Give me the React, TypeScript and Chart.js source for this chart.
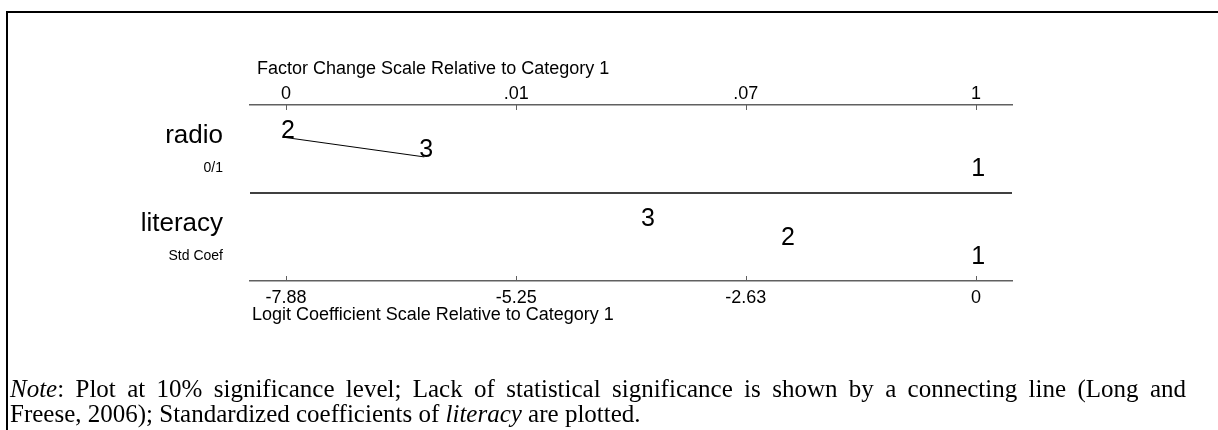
import React, { useEffect, useRef } from "react";
import { Chart, registerables } from "chart.js";

Chart.register(...registerables);

// ---------------- data ----------------
const variables = ["radio", "literacy"];
const variableSubLabels = ["0/1", "Std Coef"];
const categories = ["1", "2", "3"];
// logit coefficients relative to category 1 (categories 1, 2, 3)
const radioCoef = [0, -7.88, -6.3];
const literacyCoef = [0, -2.17, -3.77];
// pairs of categories (indexes) not significantly different -> connecting line
const radioInsignificantPairs: [number, number][] = [[1, 2]];
const literacyInsignificantPairs: [number, number][] = [];
const logitTicks = [-7.88, -5.25, -2.63, 0];
const logitTickLabels = ["-7.88", "-5.25", "-2.63", "0"];
const factorTickLabels = ["0", ".01", ".07", "1"];
const axisMin = -8.29;
const axisMax = 0.41;
const topTitle = "Factor Change Scale Relative to Category 1";
const bottomTitle = "Logit Coefficient Scale Relative to Category 1";

// ---------------- layout / style ----------------
const W = 1218;
const H = 430;
const SANS = "'Liberation Sans', Arial, Helvetica, sans-serif";
const SERIF = "'Liberation Serif', 'Times New Roman', Times, serif";
const LEVELS = [0.37, 0.59, 0.805];
const AXIS_COLOR = "#606060";

function rowPoints(coefs: number[], row: number) {
  const order = coefs.map((_, i) => i).sort((a, b) => coefs[a] - coefs[b]);
  return coefs.map((v, i) => ({ x: v, y: row + LEVELS[order.indexOf(i)], cat: categories[i] }));
}

export default function App() {
  const canvasRef = useRef<HTMLCanvasElement | null>(null);

  useEffect(() => {
    const canvas = canvasRef.current;
    if (!canvas) return;
    Chart.defaults.font.family = SANS;
    Chart.defaults.color = "#000";

    const rows = [radioCoef, literacyCoef];
    const pairs = [radioInsignificantPairs, literacyInsignificantPairs];
    const datasets: any[] = [];
    rows.forEach((coefs, r) => {
      const pts = rowPoints(coefs, r);
      pairs[r].forEach(([a, b]) =>
        datasets.push({
          type: "line",
          label: variables[r] + " link",
          data: [pts[a], pts[b]],
          borderColor: "#000",
          borderWidth: 1,
          pointRadius: 0,
          pointHoverRadius: 0,
          fill: false,
          tension: 0,
        })
      );
      datasets.push({
        type: "scatter",
        label: variables[r],
        data: pts,
        pointRadius: 0,
        pointHoverRadius: 0,
        showLine: false,
        markerRow: true,
      });
    });

    const decor = {
      id: "mlogitDecor",
      afterDatasetsDraw(chart: any) {
        const { ctx, chartArea: ca, scales } = chart;
        const x = scales.x;
        const y = scales.y;
        ctx.save();
        // separator between variables
        const sepY = y.getPixelForValue(1);
        ctx.strokeStyle = "#000";
        ctx.lineWidth = 1.5;
        ctx.beginPath();
        ctx.moveTo(ca.left, sepY);
        ctx.lineTo(ca.right, sepY);
        ctx.stroke();
        // inward tick marks
        ctx.strokeStyle = AXIS_COLOR;
        ctx.lineWidth = 1;
        logitTicks.forEach((v) => {
          const px = Math.round(x.getPixelForValue(v)) + 0.5;
          ctx.beginPath();
          ctx.moveTo(px, ca.top);
          ctx.lineTo(px, ca.top + 5);
          ctx.moveTo(px, ca.bottom);
          ctx.lineTo(px, ca.bottom - 5);
          ctx.stroke();
        });
        // category labels as markers
        ctx.fillStyle = "#000";
        ctx.font = `25px ${SANS}`;
        ctx.textAlign = "center";
        ctx.textBaseline = "alphabetic";
        chart.data.datasets.forEach((ds: any, di: number) => {
          if (!ds.markerRow) return;
          const meta = chart.getDatasetMeta(di);
          meta.data.forEach((el: any, i: number) => {
            ctx.fillText(ds.data[i].cat, el.x + 2, el.y);
          });
        });
        // variable names
        ctx.textAlign = "right";
        variables.forEach((name, r) => {
          ctx.font = `26px ${SANS}`;
          ctx.fillText(name, ca.left - 27, y.getPixelForValue(r + 0.435));
          ctx.font = `14px ${SANS}`;
          ctx.fillText(variableSubLabels[r], ca.left - 27, y.getPixelForValue(r + 0.76));
        });
        // axis titles
        ctx.textAlign = "left";
        ctx.textBaseline = "middle";
        ctx.font = `18px ${SANS}`;
        ctx.fillText(topTitle, ca.left + 7, 69);
        ctx.fillText(bottomTitle, ca.left + 2, 315);
        ctx.restore();
      },
    };

    const chart = new Chart(canvas, {
      type: "scatter",
      data: { datasets },
      options: {
        animation: false,
        responsive: false,
        devicePixelRatio: 1,
        events: [],
        layout: { padding: { left: 250, right: 206, top: 65, bottom: 109 } },
        plugins: { legend: { display: false }, tooltip: { enabled: false } },
        scales: {
          x: {
            type: "linear",
            position: "bottom",
            min: axisMin,
            max: axisMax,
            afterBuildTicks: (s: any) => {
              s.ticks = logitTicks.map((v) => ({ value: v }));
            },
            afterFit: (s: any) => {
              s.height = 40;
            },
            ticks: {
              autoSkip: false,
              maxRotation: 0,
              padding: 6,
              font: { size: 18, family: SANS },
              color: "#000",
              callback: (_v: any, i: number) => logitTickLabels[i],
            },
            grid: { display: false, drawTicks: false },
            border: { display: true, color: AXIS_COLOR, width: 1.5 },
          },
          x2: {
            type: "linear",
            position: "top",
            min: axisMin,
            max: axisMax,
            afterBuildTicks: (s: any) => {
              s.ticks = logitTicks.map((v) => ({ value: v }));
            },
            afterFit: (s: any) => {
              s.height = 40;
            },
            ticks: {
              autoSkip: false,
              maxRotation: 0,
              padding: 0,
              font: { size: 18, family: SANS },
              color: "#000",
              callback: (_v: any, i: number) => factorTickLabels[i],
            },
            grid: { display: false, drawTicks: false },
            border: { display: true, color: AXIS_COLOR, width: 1.5 },
          },
          y: {
            type: "linear",
            min: 0,
            max: 2,
            reverse: true,
            display: false,
          },
        },
      } as any,
      plugins: [decor],
    });
    return () => chart.destroy();
  }, []);

  return (
    <div
      style={{
        position: "fixed",
        left: 0,
        top: 0,
        width: W,
        height: H,
        overflow: "hidden",
        background: "#fff",
      }}
    >
      <canvas
        ref={canvasRef}
        width={W}
        height={H}
        style={{ position: "absolute", left: 0, top: 0, width: W, height: H }}
      />
      <div
        style={{
          position: "absolute",
          left: 6,
          top: 11,
          width: 1400,
          height: 600,
          border: "2px solid #000",
          boxSizing: "border-box",
        }}
      />
      <div
        style={{
          position: "absolute",
          left: 10,
          top: 376,
          width: 1176,
          fontFamily: SERIF,
          fontSize: 25,
          lineHeight: "25px",
          color: "#000",
        }}
      >
        <div style={{ textAlign: "justify", textAlignLast: "justify", whiteSpace: "nowrap" } as any}>
          <i>Note</i>: Plot at 10% significance level; Lack of statistical significance is shown by a connecting line (Long and
        </div>
        <div style={{ whiteSpace: "nowrap" }}>
          Freese, 2006); Standardized coefficients of <i>literacy</i> are plotted.
        </div>
      </div>
    </div>
  );
}
